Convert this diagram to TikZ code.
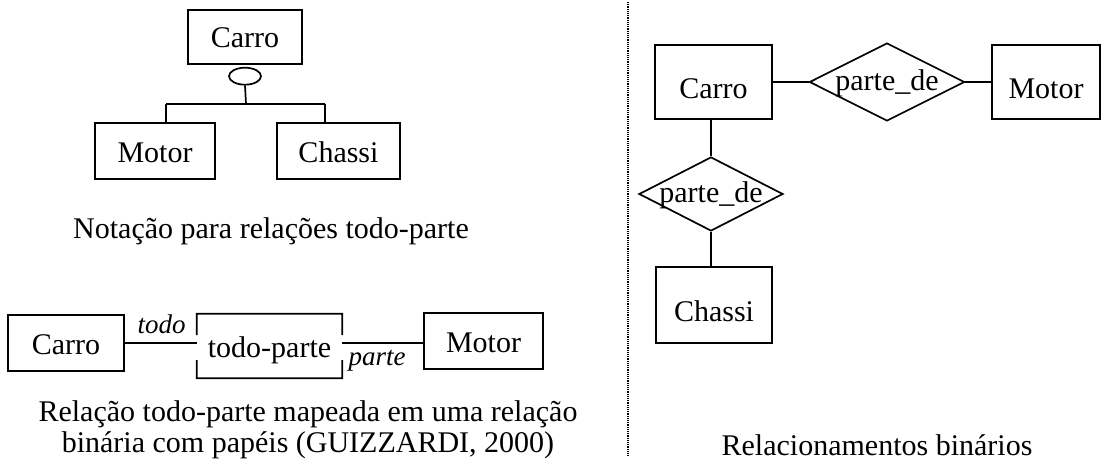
\documentclass[tikz,border=0pt]{standalone}
\usepackage{fontspec}
\setmainfont{Liberation Serif}
\usetikzlibrary{shapes.geometric,calc}
\begin{document}
\begin{tikzpicture}[x=1pt,y=-1pt,
  every node/.style={font=\fontsize{30}{30}\selectfont},
  lbox/.style={draw, line width=1.7pt, inner sep=0pt, text height=22pt, text depth=0pt},
  rbox/.style={draw, line width=1.7pt, inner sep=0pt, text height=33pt, text depth=0pt},
  rel/.style={draw, diamond, line width=1.7pt, inner sep=0pt},
  reltext/.style={inner sep=0pt, text height=20pt, text depth=3pt},
  role/.style={font=\fontsize{27}{27}\selectfont\itshape, inner sep=0pt, anchor=base},
  conn/.style={line width=1.7pt},
  captext/.style={anchor=base, inner sep=0pt}]
\fill[white] (0,0) rectangle (1111,476);
\useasboundingbox (0,0) rectangle (1111,476);

% ---- top left: whole-part notation
\node[lbox, minimum width=114pt, minimum height=54pt] (cA) at (245,37) {Carro};
\node[draw, ellipse, line width=1.7pt, minimum width=32pt, minimum height=17pt, inner sep=0pt, anchor=north] (e) at ([yshift=-2pt]cA.south) {};
\node[lbox, minimum width=120pt, minimum height=56pt] (mT) at (155,151) {Motor};
\node[lbox, minimum width=123pt, minimum height=56pt] (chT) at (338.5,151) {Chassi};
\coordinate (bm) at (246,104);
\coordinate (bl) at (166,104);
\coordinate (br) at (325,104);
\draw[conn] (e.south) -- (bm);
\draw[conn] (bl) -- (br);
\draw[conn] (bl) -- (bl |- mT.north);
\draw[conn] (br) -- (br |- chT.north);
\node[captext] (cap1) at (271,238) {Notação para relações todo-parte};

% ---- bottom left: binary relation with roles
\node[lbox, minimum width=116pt, minimum height=56pt] (cB) at (66,343) {Carro};
\node[inner sep=0pt, minimum width=145pt, minimum height=64pt, text height=22pt, text depth=0pt] (tp) at (269.5,346) {todo-parte};
\draw[conn] ($(tp.north west)!0.33!(tp.south west)$) -- (tp.north west) -- (tp.north east) -- ($(tp.north east)!0.33!(tp.south east)$);
\draw[conn] ($(tp.north west)!0.72!(tp.south west)$) -- (tp.south west) -- (tp.south east) -- ($(tp.north east)!0.72!(tp.south east)$);
\node[lbox, minimum width=119pt, minimum height=56pt] (mB) at (483.5,341) {Motor};
\draw[conn] (cB.east) -- (cB.east -| tp.west);
\draw[conn] (tp.east |- cB.east) -- (mB.west |- cB.east);
\node[role] (todo) at (161.5,333) {todo};
\node[role] (parte) at (377,365) {parte};
\node[captext] (cap2a) at (308,421) {Relação todo-parte mapeada em uma relação};
\node[captext] (cap2b) at (308,452) {binária com papéis (GUIZZARDI, 2000)};

% ---- separator
\coordinate (dt) at (628,2);
\coordinate (db) at (628,456);
\draw[line width=1.3pt, dash pattern=on 1.3pt off 0.9pt] (dt) -- (db);

% ---- right: binary relationships
\node[rbox, minimum width=117pt, minimum height=74pt] (cR) at (713.5,82) {Carro};
\node[rel, minimum width=155pt, minimum height=78pt] (d1) at (887,82) {};
\node[reltext] (d1t) at (d1) {parte\_de};
\node[rbox, minimum width=108pt, minimum height=74pt] (mR) at (1046,82) {Motor};
\node[rel, minimum width=144pt, minimum height=74pt] (d2) at (711,194) {};
\node[reltext] (d2t) at (d2) {parte\_de};
\node[rbox, minimum width=116pt, minimum height=76pt] (chR) at (714,305) {Chassi};
\draw[conn] (cR.east) -- (d1.west);
\draw[conn] (d1.east) -- (mR.west);
\draw[conn] (d2.north) -- (d2.north |- cR.south);
\draw[conn] (d2.south) -- (d2.south |- chR.north);
\node[captext] (cap3) at (877,455) {Relacionamentos binários};
\end{tikzpicture}
\end{document}
